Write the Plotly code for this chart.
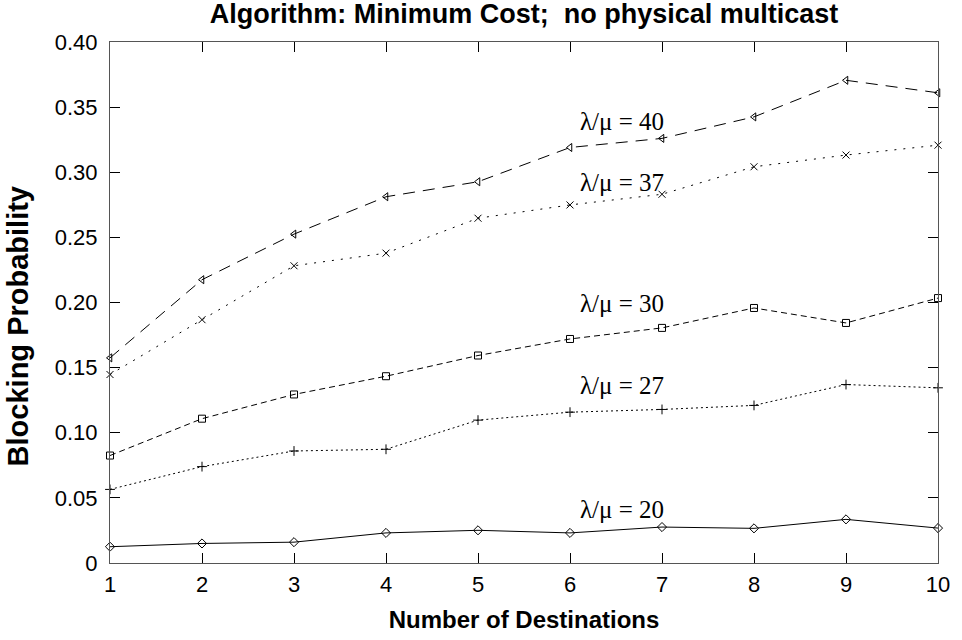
import plotly.graph_objects as go

destinations = [1, 2, 3, 4, 5, 6, 7, 8, 9, 10]
load_40 = [0.1575, 0.2175, 0.2525, 0.2812, 0.2927, 0.3190, 0.3260, 0.3425, 0.3706, 0.3610]
load_37 = [0.1447, 0.1868, 0.2282, 0.2379, 0.2647, 0.2749, 0.2831, 0.3042, 0.3132, 0.3208]
load_30 = [0.0825, 0.1108, 0.1294, 0.1434, 0.1593, 0.1720, 0.1805, 0.1958, 0.1843, 0.2034]
load_27 = [0.0565, 0.0740, 0.0860, 0.0873, 0.1097, 0.1158, 0.1179, 0.1210, 0.1370, 0.1345]
load_20 = [0.0125, 0.0150, 0.0160, 0.0231, 0.0251, 0.0231, 0.0276, 0.0266, 0.0335, 0.0268]

series_labels = ["λ/μ = 40", "λ/μ = 37", "λ/μ = 30", "λ/μ = 27", "λ/μ = 20"]
label_pos = [(6.57, 0.339), (6.57, 0.292), (6.57, 0.199), (6.57, 0.136), (6.57, 0.041)]

y_tickvals = [0, 0.05, 0.10, 0.15, 0.20, 0.25, 0.30, 0.35, 0.40]
y_ticktext = ["0", "0.05", "0.10", "0.15", "0.20", "0.25", "0.30", "0.35", "0.40"]

fig = go.Figure()
styles = [
    (load_40, "12px,8px", "triangle-left-open"),
    (load_37, "2px,7px", "x-thin-open"),
    (load_30, "6px,4px", "square-open"),
    (load_27, "2px,3px", "cross-thin-open"),
    (load_20, "solid", "diamond-open"),
]
for (vals, dash, sym), name in zip(styles, series_labels):
    fig.add_trace(go.Scatter(
        x=destinations, y=vals, mode="lines+markers", name=name,
        line=dict(color="black", width=1, dash=dash),
        marker=dict(symbol=sym, size=7, color="black", line=dict(color="black", width=1)),
        showlegend=False, cliponaxis=False,
    ))

for (lx, ly), txt in zip(label_pos, series_labels):
    fig.add_annotation(x=lx, y=ly, text=txt, showarrow=False,
                       font=dict(family="Liberation Serif, Times New Roman, serif", size=25, color="black"))

# y-axis title as a rotated annotation (placed like the reference)
fig.add_annotation(xref="paper", yref="paper", x=-0.11, y=0.454, xanchor="center", yanchor="middle",
                   text="<b>Blocking Probability</b>", textangle=-90, showarrow=False,
                   font=dict(size=29, color="black"))

fig.update_layout(
    width=962, height=640,
    margin=dict(l=110, r=18, t=42, b=76),
    paper_bgcolor="white", plot_bgcolor="white",
    font=dict(family="Liberation Sans, Arial, sans-serif", size=22, color="black"),
    title=dict(text="<b>Algorithm: Minimum Cost;&nbsp; no physical multicast</b>",
               xref="paper", x=0.5, xanchor="center", y=0.993, yanchor="top",
               font=dict(size=27)),
    xaxis=dict(range=[1, 10], tickvals=destinations, ticks="inside", ticklen=10,
               tickcolor="black", ticklabelstandoff=2,
               showline=True, linecolor="#555", linewidth=1, mirror="ticks",
               showgrid=False, zeroline=False,
               title=dict(text="<b>Number of Destinations</b>", font=dict(size=24), standoff=14)),
    yaxis=dict(range=[0, 0.40], tickvals=y_tickvals, ticktext=y_ticktext, ticks="inside", ticklen=10,
               tickcolor="black", ticklabelstandoff=7,
               showline=True, linecolor="#555", linewidth=1, mirror="ticks",
               showgrid=False, zeroline=False),
)

fig.write_html("out.html")
